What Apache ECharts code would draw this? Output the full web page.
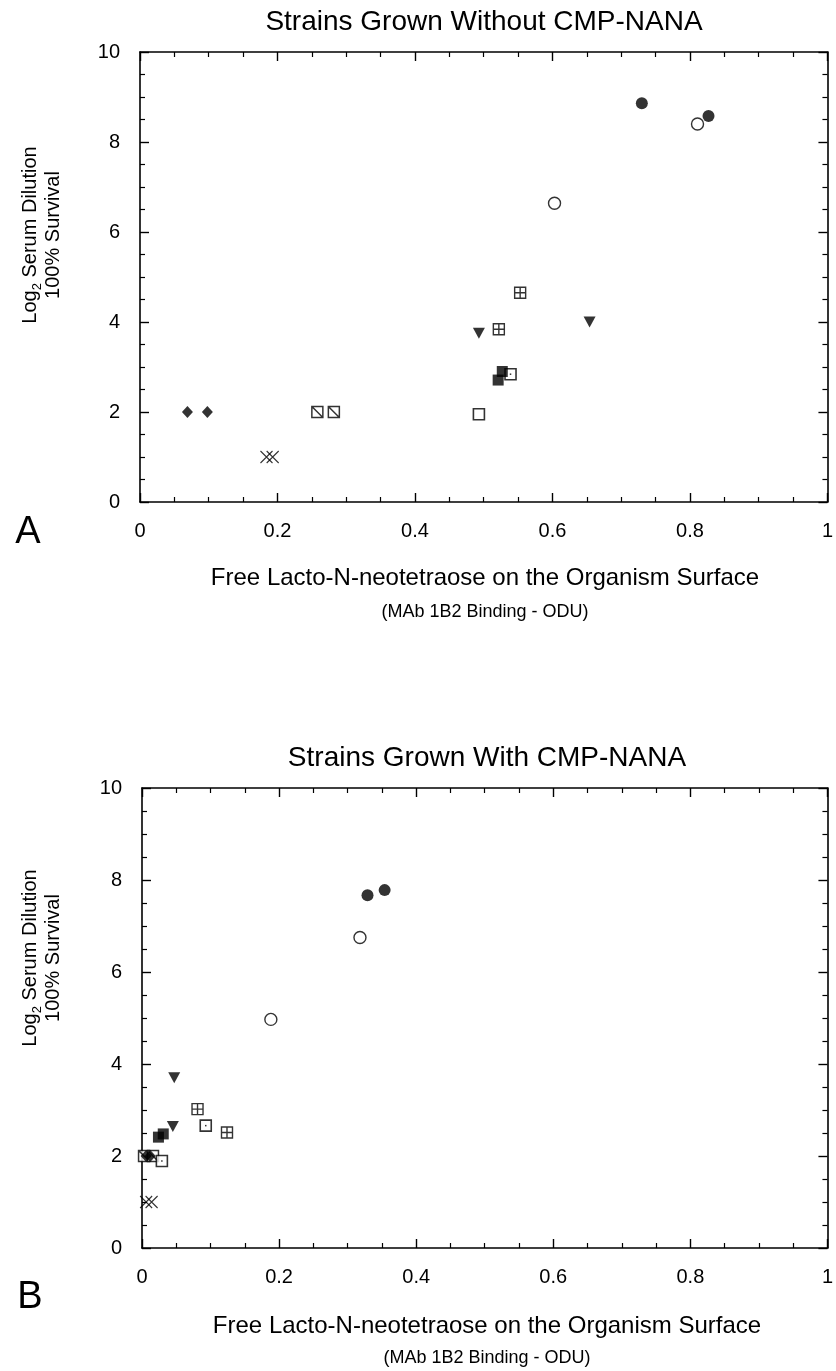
<!DOCTYPE html>
<html>
<head>
<meta charset="utf-8">
<script src="https://cdn.jsdelivr.net/npm/echarts@6/dist/echarts.min.js"></script>
<style>
html,body{margin:0;padding:0;background:#fff;}
#chart{width:836px;height:1371px;}
</style>
</head>
<body>
<div id="chart"></div>
<script>
// ---------- data (x = MAb 1B2 binding ODU, y = log2 serum dilution) ----------
var xTicks = [0, 0.2, 0.4, 0.6, 0.8, 1];
var yTicks = [0, 2, 4, 6, 8, 10];

// Panel A: strains grown without CMP-NANA
var A_filledDiamond = [[0.069, 2], [0.098, 2]];
var A_cross         = [[0.184, 1], [0.193, 1]];
var A_hatchSquare   = [[0.258, 2], [0.282, 2]];
var A_openSquare    = [[0.493, 1.95]];
var A_dotSquare     = [[0.539, 2.84]];
var A_filledSquare  = [[0.521, 2.71], [0.527, 2.9]];
var A_gridSquare    = [[0.522, 3.84], [0.553, 4.65]];
var A_triangle      = [[0.493, 3.75], [0.654, 4.0]];
var A_openCircle    = [[0.603, 6.64], [0.811, 8.4]];
var A_filledCircle  = [[0.730, 8.86], [0.827, 8.58]];

// Panel B: strains grown with CMP-NANA
var B_hatchSquare   = [[0.003, 2], [0.016, 2]];
var B_filledDiamond = [[0.006, 2], [0.012, 2]];
var B_cross         = [[0.006, 1], [0.014, 1]];
var B_openSquare    = [];
var B_dotSquare     = [[0.029, 1.89], [0.093, 2.66]];
var B_filledSquare  = [[0.024, 2.41], [0.031, 2.48]];
var B_gridSquare    = [[0.081, 3.02], [0.124, 2.51]];
var B_triangle      = [[0.047, 3.7], [0.045, 2.64]];
var B_openCircle    = [[0.188, 4.97], [0.318, 6.75]];
var B_filledCircle  = [[0.329, 7.67], [0.354, 7.78]];

// ---------- styles ----------
var FONT = 'Liberation Sans, Arial, Helvetica, sans-serif';
var SYM = {
  filledDiamond: {symbol: 'diamond', symbolSize: [11, 12], itemStyle: {color: '#000'}},
  cross: {symbol: 'path://M0,0L10,10M10,0L0,10', symbolSize: 12, itemStyle: {color: 'none', borderColor: '#000', borderWidth: 1.1}},
  hatchSquare: {symbol: 'path://M0,0H10V10H0Z M0,0L10,10', symbolSize: 11, itemStyle: {color: '#fff', borderColor: '#000', borderWidth: 1.5}},
  openSquare: {symbol: 'rect', symbolSize: 11, itemStyle: {color: '#fff', borderColor: '#000', borderWidth: 1.6}},
  dotSquare: {symbol: 'rect', symbolSize: 11, itemStyle: {color: '#fff', borderColor: '#000', borderWidth: 1.6}},
  filledSquare: {symbol: 'rect', symbolSize: 11, itemStyle: {color: '#000'}},
  gridSquare: {symbol: 'path://M0,0H10V10H0Z M5,0V10 M0,5H10', symbolSize: 11, itemStyle: {color: '#fff', borderColor: '#000', borderWidth: 1.4}},
  triangle: {symbol: 'triangle', symbolRotate: 180, symbolSize: [12, 11], itemStyle: {color: '#000'}},
  openCircle: {symbol: 'circle', symbolSize: 12, itemStyle: {color: '#fff', borderColor: '#000', borderWidth: 1.4}},
  filledCircle: {symbol: 'circle', symbolSize: 12, itemStyle: {color: '#000'}}
};

function mkSeries(name, data, style, gi) {
  var s = {
    type: 'scatter', name: name, data: data,
    xAxisIndex: gi * 2, yAxisIndex: gi * 2,
    symbol: style.symbol, symbolSize: style.symbolSize,
    itemStyle: style.itemStyle, silent: true, animation: false, z: 3
  };
  if (style.symbolRotate) s.symbolRotate = style.symbolRotate;
  return s;
}

var series = [];
var panels = [
  {hatchSquare: A_hatchSquare, filledDiamond: A_filledDiamond, cross: A_cross, openSquare: A_openSquare, dotSquare: A_dotSquare, filledSquare: A_filledSquare, gridSquare: A_gridSquare, triangle: A_triangle, openCircle: A_openCircle, filledCircle: A_filledCircle},
  {hatchSquare: B_hatchSquare, filledDiamond: B_filledDiamond, cross: B_cross, openSquare: B_openSquare, dotSquare: B_dotSquare, filledSquare: B_filledSquare, gridSquare: B_gridSquare, triangle: B_triangle, openCircle: B_openCircle, filledCircle: B_filledCircle}
];
panels.forEach(function (p, gi) {
  Object.keys(p).forEach(function (k) {
    series.push(mkSeries(k, p[k], SYM[k], gi));
  });
  // center dots of dotted squares
  series.push({type: 'scatter', data: p.dotSquare, xAxisIndex: gi * 2, yAxisIndex: gi * 2,
    symbol: 'rect', symbolSize: 1.5, itemStyle: {color: '#000'}, silent: true, animation: false, z: 4});
});

function xAxes(gi, showLabel, pos) {
  return {
    type: 'value', gridIndex: gi, position: pos, min: 0, max: 1, interval: 0.2,
    axisLine: {show: true, onZero: false, lineStyle: {color: '#000', width: 1.6}},
    axisTick: {show: true, inside: true, length: 9, lineStyle: {color: '#000', width: 1.4}},
    minorTick: {show: true, splitNumber: 4, length: 5, lineStyle: {color: '#000', width: 1.2}},
    splitLine: {show: false},
    axisLabel: {show: showLabel, margin: 19, color: '#000', fontSize: 20, fontFamily: FONT,
      formatter: function (v) { return String(+v.toFixed(1)); }}
  };
}
function yAxes(gi, showLabel, pos) {
  return {
    type: 'value', gridIndex: gi, position: pos, min: 0, max: 10, interval: 2,
    axisLine: {show: true, onZero: false, lineStyle: {color: '#000', width: 1.6}},
    axisTick: {show: true, inside: true, length: 9, lineStyle: {color: '#000', width: 1.4}},
    minorTick: {show: true, splitNumber: 4, length: 5, lineStyle: {color: '#000', width: 1.2}},
    splitLine: {show: false},
    axisLabel: {show: showLabel, margin: 20, color: '#000', fontSize: 20, fontFamily: FONT}
  };
}

function txt(x, y, text, size, extra) {
  var st = {text: text, x: 0, y: 0, fill: '#000', font: size + 'px ' + FONT, textAlign: 'center', textVerticalAlign: 'middle'};
  var o = {type: 'text', x: x, y: y, style: st, silent: true};
  if (extra) for (var k in extra) o[k] = extra[k];
  return o;
}
function yTitle(x, y) {
  return {
    type: 'text', x: x, y: y, rotation: Math.PI / 2, silent: true,
    style: {
      text: '{a|Log}{s|2}{a| Serum Dilution}',
      textAlign: 'center', textVerticalAlign: 'middle',
      rich: {
        a: {fontSize: 20, fontFamily: FONT, color: '#000', lineHeight: 30},
        s: {fontSize: 13, fontFamily: FONT, color: '#000', lineHeight: 30, padding: [14, 0, 0, 0]}
      }
    }
  };
}

var option = {
  backgroundColor: '#fff',
  animation: false,
  grid: [
    {left: 140, top: 52, width: 688, height: 450},
    {left: 142, top: 788, width: 690, height: 460}
  ],
  xAxis: [xAxes(0, true, 'bottom'), xAxes(0, false, 'top'), xAxes(1, true, 'bottom'), xAxes(1, false, 'top')],
  yAxis: [yAxes(0, true, 'left'), yAxes(0, false, 'right'), yAxes(1, true, 'left'), yAxes(1, false, 'right')],
  series: series,
  graphic: [
    txt(484, 22, 'Strains Grown Without CMP-NANA', 28),
    txt(487, 758, 'Strains Grown With CMP-NANA', 28),
    txt(485, 578, 'Free Lacto-N-neotetraose on the Organism Surface', 24),
    txt(485, 612, '(MAb 1B2 Binding - ODU)', 18),
    txt(487, 1326, 'Free Lacto-N-neotetraose on the Organism Surface', 24),
    txt(487, 1358, '(MAb 1B2 Binding - ODU)', 18),
    txt(28, 533, 'A', 38),
    txt(30, 1298, 'B', 38),
    yTitle(30, 235),
    txt(53, 235, '100% Survival', 20, {rotation: Math.PI / 2}),
    yTitle(30, 958),
    txt(53, 958, '100% Survival', 20, {rotation: Math.PI / 2})
  ]
};

var chart = echarts.init(document.getElementById('chart'), null, {renderer: 'canvas'});
chart.setOption(option);
</script>
</body>
</html>
